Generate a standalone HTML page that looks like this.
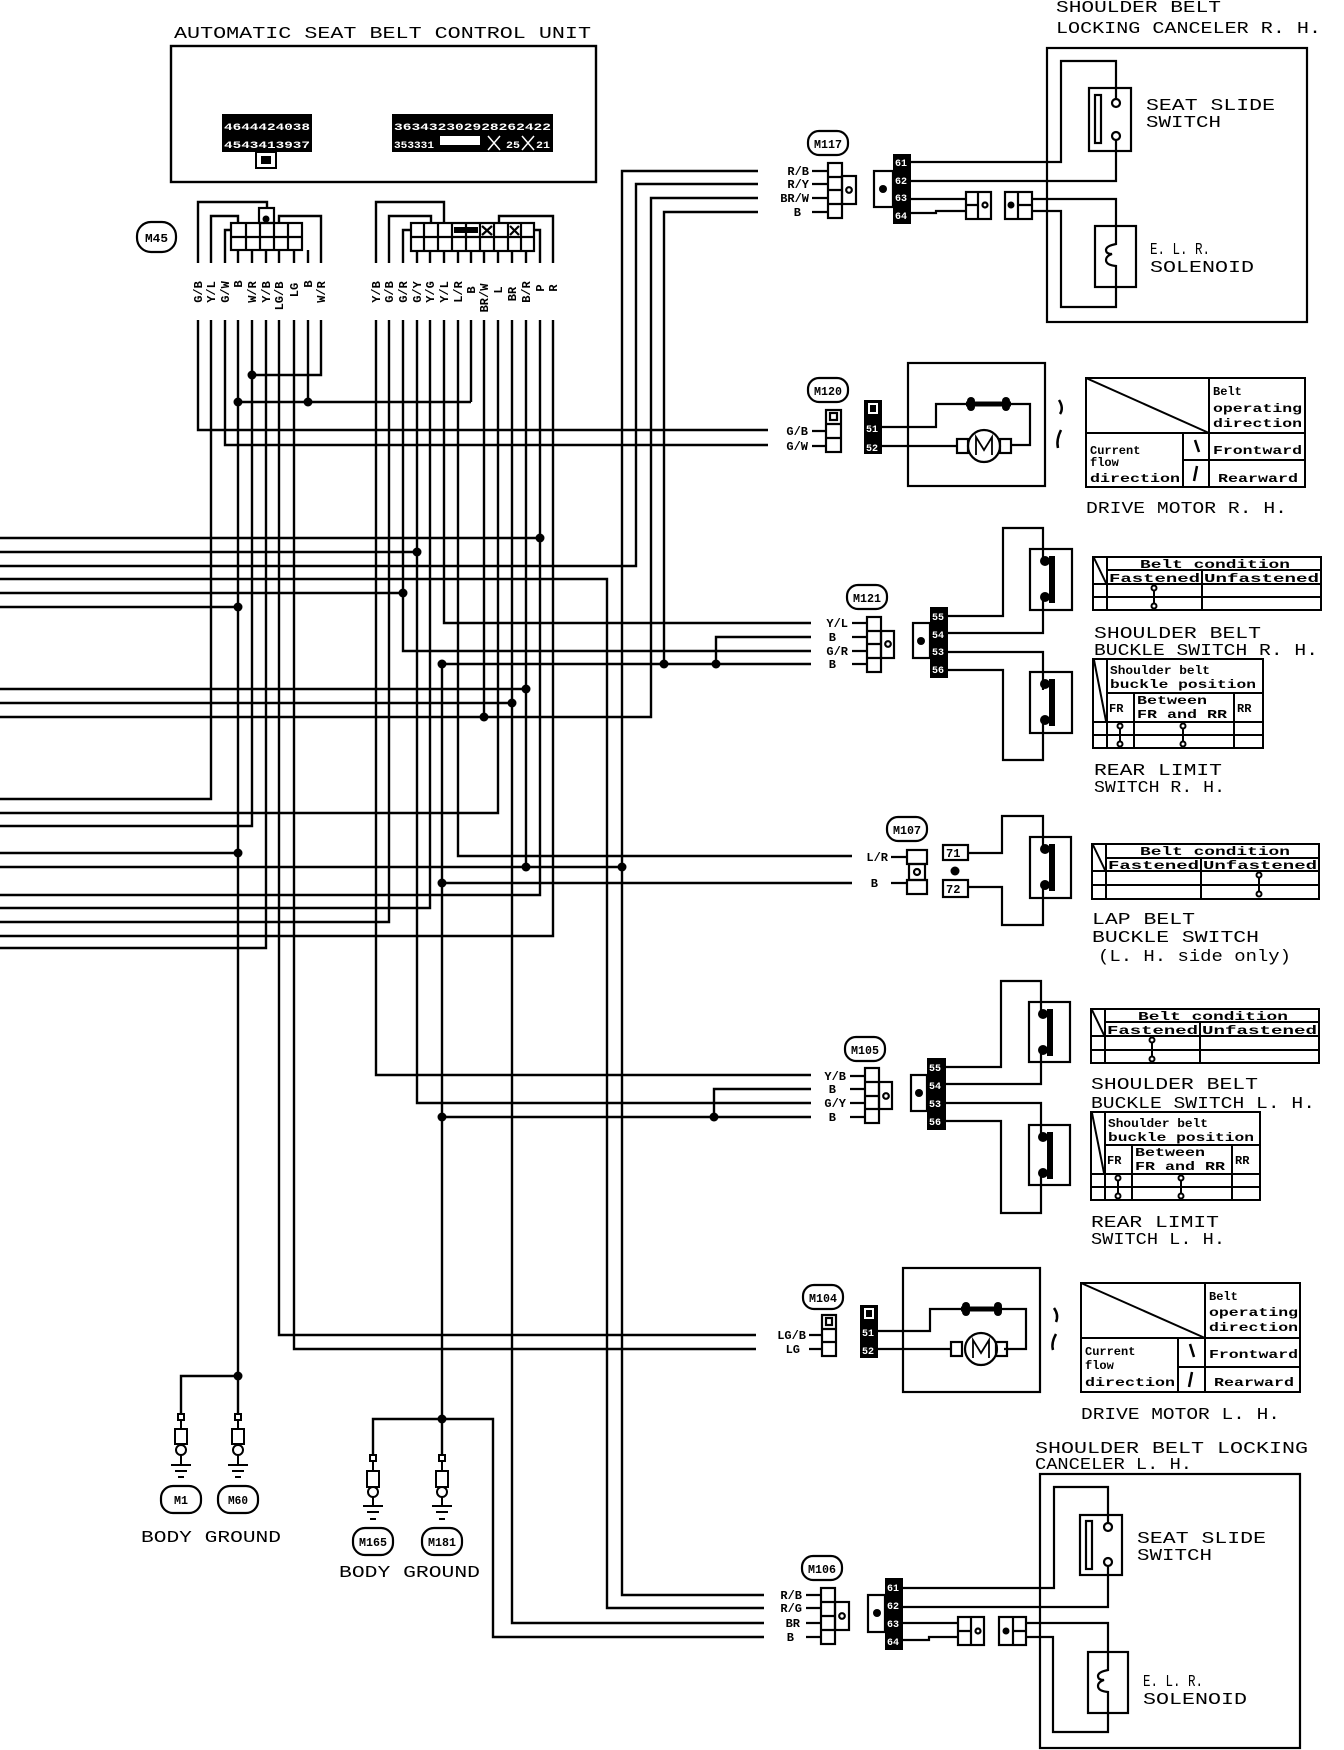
<!DOCTYPE html>
<html><head><meta charset="utf-8"><style>
html,body{margin:0;padding:0;background:#fff}
svg{display:block}
text{font-family:"Liberation Mono","DejaVu Sans Mono",monospace;fill:#000;stroke:none}
.t{font-size:17px}
.s{font-size:12px;font-weight:bold}
.m{font-size:12px;font-weight:bold}
.w{font-size:10px;font-weight:bold}
.w text{fill:#fff}
</style></head><body>
<svg width="1344" height="1750" viewBox="0 0 1344 1750" xmlns="http://www.w3.org/2000/svg">
<rect width="1344" height="1750" fill="#fff"/>
<!-- control unit -->
<text class="t" x="174" y="38" textLength="417" lengthAdjust="spacingAndGlyphs">AUTOMATIC SEAT BELT CONTROL UNIT</text>
<g fill="none" stroke="#000" stroke-width="2.4">
<rect x="171" y="46" width="425" height="136"/>
</g>
<rect x="222" y="114" width="90" height="38" fill="#000"/>
<rect x="256" y="152" width="20" height="16" fill="none" stroke="#000" stroke-width="2"/>
<rect x="261" y="156" width="10" height="8" fill="#000"/>
<g class="w">
<text x="224" y="130" textLength="86" lengthAdjust="spacingAndGlyphs">4644424038</text>
<text x="224" y="148" textLength="86" lengthAdjust="spacingAndGlyphs">4543413937</text>
</g>
<rect x="392" y="114" width="161" height="38" fill="#000"/>
<g class="w">
<text x="394" y="130" textLength="157" lengthAdjust="spacingAndGlyphs">363432302928262422</text>
<text x="394" y="148" textLength="40" lengthAdjust="spacingAndGlyphs">353331</text>
<text x="506" y="148" textLength="14" lengthAdjust="spacingAndGlyphs">25</text>
<text x="536" y="148" textLength="14" lengthAdjust="spacingAndGlyphs">21</text>
</g>
<rect x="440" y="136" width="40" height="9" fill="#fff"/>
<g stroke="#fff" stroke-width="1.5"><path d="M488 136 L500 150 M500 136 L488 150 M522 136 L534 150 M534 136 L522 150"/></g>

<!-- M45 oval -->
<rect x="137" y="222" width="39" height="30" rx="14" fill="none" stroke="#000" stroke-width="2.2"/>
<text class="m" x="145" y="242" textLength="23" lengthAdjust="spacingAndGlyphs">M45</text>

<g fill="none" stroke="#000" stroke-width="2.2">
<rect x="231" y="223" width="71" height="27"/>
<path d="M231 237 H302 M246 223 V250 M260 223 V250 M274 223 V250 M288 223 V250"/>
<rect x="259" y="208" width="15" height="15"/>
<rect x="411" y="223" width="123" height="28"/>
<path d="M411 237 H534 M424 223 V251 M438 223 V251 M452 223 V251 M466 223 V251 M480 223 V251 M494 223 V251 M508 223 V251 M521 223 V251"/>
<path d="M482 226 L492 235 M492 226 L482 235 M510 226 L519 235 M519 226 L510 235"/>
</g>
<rect x="454" y="227" width="24" height="6" fill="#000"/>
<circle cx="266" cy="219" r="3.5" fill="#000"/>

<!-- wires -->
<g fill="none" stroke="#000" stroke-width="2.4">
<path d="M198 263 V202 H267 V208"/>
<path d="M211 263 V216 H238 V223"/>
<path d="M225 263 V230 H231"/>
<path d="M238 250V263 M252 250V263 M266 250V263 M279 250V263 M294 250V263 M308 250V263"/>
<path d="M321 263 V216 H279 V223"/>
<path d="M376 263 V202 H444 V223"/>
<path d="M389 263 V216 H431 V223"/>
<path d="M403 263 V230 H411"/>
<path d="M417 251V263 M430 251V263 M444 251V263 M458 251V263 M471 251V263 M484 251V263 M498 251V263 M512 251V263 M526 251V263"/>
<path d="M540 263 V230 H534"/>
<path d="M553 263 V216 H499 V223"/>

<path d="M198 320 V430 H768"/>
<path d="M211 320 V799 H0"/>
<path d="M225 320 V445 H768"/>
<path d="M238 320 V1414"/>
<path d="M252 320 V826 H0"/>
<path d="M266 320 V948 H0"/>
<path d="M279 320 V1335 H756"/>
<path d="M294 320 V1349 H756"/>
<path d="M308 320 V402"/>
<path d="M321 320 V375 H252"/>
<path d="M238 402 H471"/>
<path d="M376 320 V1075 H811"/>
<path d="M389 320 V922 H0"/>
<path d="M403 320 V651 H811"/>
<path d="M417 320 V1103 H811"/>
<path d="M430 320 V908 H0"/>
<path d="M444 320 V623 H811"/>
<path d="M458 320 V856 H852"/>
<path d="M471 320 V402"/>
<path d="M484 320 V717"/>
<path d="M498 320 V813 H0"/>
<path d="M512 320 V1623 H764"/>
<path d="M526 320 V867"/>
<path d="M540 320 V895 H0"/>
<path d="M553 320 V936 H0"/>
<path d="M758 171 H622 V1595 H764"/>
<path d="M758 184 H636 V566 H0"/>
<path d="M758 198 H651 V717 H0"/>
<path d="M758 212 H664 V664"/>
<path d="M0 579 H607 V1608 H764"/>
<path d="M0 538 H540 M0 552 H417 M0 593 H403 M0 607 H238 M0 689 H526 M0 703 H512 M0 853 H238 M0 867 H622"/>
<path d="M442 1419 V664 H811 M716 664 V637 H811"/>
<path d="M442 883 H852 M442 1117 H811 M714 1117 V1089 H811"/>
<path d="M181 1414 V1376 H238"/>
<path d="M373 1455 V1419 H493 V1637 H764 M442 1419 V1455"/>
</g>
<g fill="#000">
<circle cx="252" cy="375" r="4.5"/><circle cx="238" cy="402" r="4.5"/><circle cx="308" cy="402" r="4.5"/>
<circle cx="540" cy="538" r="4.5"/><circle cx="417" cy="552" r="4.5"/><circle cx="403" cy="593" r="4.5"/>
<circle cx="238" cy="607" r="4.5"/><circle cx="442" cy="664" r="4.5"/><circle cx="664" cy="664" r="4.5"/>
<circle cx="716" cy="664" r="4.5"/><circle cx="526" cy="689" r="4.5"/><circle cx="512" cy="703" r="4.5"/>
<circle cx="484" cy="717" r="4.5"/><circle cx="238" cy="853" r="4.5"/><circle cx="526" cy="867" r="4.5"/>
<circle cx="622" cy="867" r="4.5"/><circle cx="442" cy="883" r="4.5"/><circle cx="442" cy="1117" r="4.5"/>
<circle cx="714" cy="1117" r="4.5"/><circle cx="238" cy="1376" r="4.5"/><circle cx="442" cy="1419" r="4.5"/>
</g>

<!-- vertical wire labels -->
<g class="s" text-anchor="middle">
<text transform="translate(202,292) rotate(-90)">G/B</text>
<text transform="translate(215,292) rotate(-90)">Y/L</text>
<text transform="translate(229,292) rotate(-90)">G/W</text>
<text transform="translate(242,284) rotate(-90)">B</text>
<text transform="translate(256,292) rotate(-90)">W/R</text>
<text transform="translate(270,292) rotate(-90)">Y/B</text>
<text transform="translate(283,296) rotate(-90)">LG/B</text>
<text transform="translate(298,290) rotate(-90)">LG</text>
<text transform="translate(312,284) rotate(-90)">B</text>
<text transform="translate(325,292) rotate(-90)">W/R</text>
<text transform="translate(380,292) rotate(-90)">Y/B</text>
<text transform="translate(393,292) rotate(-90)">G/B</text>
<text transform="translate(407,292) rotate(-90)">G/R</text>
<text transform="translate(421,292) rotate(-90)">G/Y</text>
<text transform="translate(434,292) rotate(-90)">Y/G</text>
<text transform="translate(448,292) rotate(-90)">Y/L</text>
<text transform="translate(462,292) rotate(-90)">L/R</text>
<text transform="translate(475,290) rotate(-90)">B</text>
<text transform="translate(488,298) rotate(-90)">BR/W</text>
<text transform="translate(502,290) rotate(-90)">L</text>
<text transform="translate(516,294) rotate(-90)">BR</text>
<text transform="translate(530,292) rotate(-90)">B/R</text>
<text transform="translate(544,288) rotate(-90)">P</text>
<text transform="translate(557,288) rotate(-90)">R</text>
</g>

<!-- ===== Shoulder belt locking canceler R.H. ===== -->
<text class="t" x="1056" y="12" textLength="165" lengthAdjust="spacingAndGlyphs">SHOULDER BELT</text>
<text class="t" x="1056" y="33" textLength="265" lengthAdjust="spacingAndGlyphs">LOCKING CANCELER R. H.</text>
<rect x="808" y="131" width="40" height="24" rx="11" fill="none" stroke="#000" stroke-width="2.2"/>
<text class="m" x="814" y="148" textLength="28" lengthAdjust="spacingAndGlyphs">M117</text>
<g class="s" text-anchor="end">
<text x="809" y="175">R/B</text><text x="809" y="188">R/Y</text><text x="809" y="202">BR/W</text><text x="801" y="216">B</text>
</g>
<g fill="none" stroke="#000" stroke-width="2.2">
<path d="M812 171 H828 M812 184 H828 M812 198 H828 M812 212 H828"/>
<rect x="828" y="163" width="14" height="55"/><path d="M828 177 H842 M828 190 H842 M828 204 H842"/>
<rect x="842" y="176" width="14" height="28"/>
<circle cx="849" cy="190" r="2.8"/>
<rect x="874" y="171" width="19" height="36"/>
<rect x="1047" y="48" width="260" height="274"/>
<rect x="1089" y="88" width="42" height="63"/>
<rect x="1095" y="95" width="6" height="48"/>
<circle cx="1116" cy="103" r="4"/><circle cx="1116" cy="136" r="4"/>
<path d="M911 162 H1061 V61 H1116 V99"/>
<path d="M911 181 H1116 V140"/>
<path d="M911 199 H966 M911 213 H936 V211 H966"/>
<rect x="966" y="192" width="25" height="27"/><path d="M978 192 V219 M966 205 H978"/>
<circle cx="985" cy="205" r="2.5"/>
<rect x="1005" y="192" width="27" height="27"/><path d="M1018 192 V219 M1018 205 H1032"/>
<path d="M1032 199 H1116 V226 M1032 211 H1061 V307 H1116 V287"/>
<rect x="1095" y="226" width="41" height="61"/>
<path d="M1116 226 V244 Q1106 246 1106 250 Q1106 254 1112 254 Q1106 256 1106 260 Q1106 265 1116 266 V287"/>
</g>
<circle cx="1011" cy="205" r="3.5" fill="#000"/>
<circle cx="883" cy="189" r="4" fill="#000"/>
<rect x="893" y="154" width="18" height="70" fill="#000"/>
<g class="w"><text x="895" y="166">61</text><text x="895" y="184">62</text><text x="895" y="201">63</text><text x="895" y="219">64</text></g>
<text class="t" x="1146" y="110" textLength="129" lengthAdjust="spacingAndGlyphs">SEAT SLIDE</text>
<text class="t" x="1146" y="127" textLength="75" lengthAdjust="spacingAndGlyphs">SWITCH</text>
<text class="t" x="1150" y="254" textLength="60" lengthAdjust="spacingAndGlyphs">E. L. R.</text>
<text class="t" x="1150" y="272" textLength="104" lengthAdjust="spacingAndGlyphs">SOLENOID</text>

<!-- ===== Drive motor R.H. ===== -->
<rect x="808" y="378" width="40" height="24" rx="11" fill="none" stroke="#000" stroke-width="2.2"/>
<text class="m" x="814" y="395" textLength="28" lengthAdjust="spacingAndGlyphs">M120</text>
<g class="s" text-anchor="end"><text x="808" y="435">G/B</text><text x="808" y="450">G/W</text></g>
<g fill="none" stroke="#000" stroke-width="2.2">
<path d="M812 431 H826 M812 446 H826"/>
<rect x="826" y="410" width="15" height="42"/><path d="M826 424 H841 M826 438 H841"/>
<rect x="830" y="413" width="7" height="7"/>
<rect x="908" y="363" width="137" height="123"/>
<path d="M882 427 H936 V404 H966 M1011 404 H1030 V445 H1011 M882 446 H957"/>
<circle cx="984" cy="446" r="16"/>
<rect x="957" y="439" width="11" height="14"/><rect x="1000" y="439" width="11" height="14"/>
<path d="M976 455 V437 L984 450 L992 437 V455" stroke-width="1.8"/>
<path d="M1059 400 Q1064 408 1060 414 M1061 430 Q1056 440 1058 448" stroke-width="2.5"/>
</g>
<path d="M966 404 H1011" stroke="#000" stroke-width="5"/>
<circle cx="971" cy="401" r="4"/><circle cx="971" cy="407" r="4"/><circle cx="1006" cy="401" r="4"/><circle cx="1006" cy="407" r="4"/>
<rect x="864" y="400" width="18" height="54" fill="#000"/>
<rect x="868" y="403" width="10" height="11" fill="#fff"/><rect x="870" y="405" width="6" height="7" fill="#000"/>
<g class="w"><text x="866" y="432">51</text><text x="866" y="451">52</text></g>

<g fill="none" stroke="#000" stroke-width="2">
<rect x="1086" y="378" width="219" height="109"/>
<path d="M1209 378 V487 M1086 433 H1305 M1183 433 V487 M1183 460 H1305 M1086 378 L1209 433"/>
<path d="M1195 440 L1199 452 M1197 466 L1194 481" stroke-width="2.5"/>
</g>
<g class="s" font-weight="normal">
<text x="1213" y="395">Belt</text><text x="1213" y="412" textLength="89" lengthAdjust="spacingAndGlyphs">operating</text><text x="1213" y="427" textLength="89" lengthAdjust="spacingAndGlyphs">direction</text>
<text x="1090" y="454">Current</text><text x="1090" y="466">flow</text><text x="1090" y="482" textLength="90" lengthAdjust="spacingAndGlyphs">direction</text>
<text x="1213" y="454" textLength="89" lengthAdjust="spacingAndGlyphs">Frontward</text><text x="1218" y="482" textLength="80" lengthAdjust="spacingAndGlyphs">Rearward</text>
</g>
<text class="t" x="1086" y="513" textLength="201" lengthAdjust="spacingAndGlyphs">DRIVE MOTOR R. H.</text>

<!-- ===== Shoulder belt buckle switch R.H. & Rear limit ===== -->
<rect x="847" y="585" width="40" height="24" rx="11" fill="none" stroke="#000" stroke-width="2.2"/>
<text class="m" x="853" y="602" textLength="28" lengthAdjust="spacingAndGlyphs">M121</text>
<g class="s" text-anchor="end"><text x="848" y="627">Y/L</text><text x="836" y="641">B</text><text x="848" y="655">G/R</text><text x="836" y="668">B</text></g>
<g fill="none" stroke="#000" stroke-width="2.2">
<path d="M852 623 H867 M852 637 H867 M852 651 H867 M852 664 H867"/>
<rect x="867" y="617" width="14" height="55"/><path d="M867 631 H881 M867 644 H881 M867 658 H881"/>
<rect x="881" y="631" width="13" height="27"/><circle cx="888" cy="644" r="2.8"/>
<rect x="913" y="623" width="17" height="35"/>
<path d="M948 616 H1003 V528 H1043 V560 M1043 598 V633 H948 M948 652 H1043 V690 M1043 722 V760 H1003 V670 H948"/>
<rect x="1030" y="549" width="42" height="61"/>
<rect x="1030" y="672" width="42" height="61"/>
</g>
<rect x="1049" y="556" width="6" height="47" fill="#000"/><circle cx="1045" cy="561" r="5"/><circle cx="1045" cy="597" r="5"/>
<rect x="1049" y="679" width="6" height="47" fill="#000"/><circle cx="1045" cy="684" r="5"/><circle cx="1045" cy="720" r="5"/>
<circle cx="921" cy="641" r="4" fill="#000"/>
<rect x="930" y="607" width="18" height="71" fill="#000"/>
<g class="w"><text x="932" y="620">55</text><text x="932" y="638">54</text><text x="932" y="655">53</text><text x="932" y="673">56</text></g>
<g fill="none" stroke="#000" stroke-width="2">
<rect x="1093" y="557" width="228" height="53"/>
<path d="M1107 557 V610 M1107 570 H1321 M1107 584 H1321 M1093 584 H1107 M1093 597 H1321 M1202 570 V610 M1094 558 L1106 583"/>
<circle cx="1154" cy="588" r="2.5"/><circle cx="1154" cy="606" r="2.5"/><path d="M1154 591 V603"/>
<rect x="1093" y="659" width="170" height="89"/>
<path d="M1107 659 V748 M1107 693 H1263 M1093 722 H1263 M1093 735 H1263 M1134 693 V748 M1234 693 V748 M1094 660 L1106 721"/>
<circle cx="1120" cy="726" r="2.5"/><circle cx="1120" cy="744" r="2.5"/><path d="M1120 729 V741"/>
<circle cx="1183" cy="726" r="2.5"/><circle cx="1183" cy="744" r="2.5"/><path d="M1183 729 V741"/>
</g>
<g class="s">
<text x="1140" y="568" textLength="150" lengthAdjust="spacingAndGlyphs">Belt condition</text>
<text x="1109" y="582" textLength="91" lengthAdjust="spacingAndGlyphs">Fastened</text>
<text x="1204" y="582" textLength="115" lengthAdjust="spacingAndGlyphs">Unfastened</text>
<text x="1110" y="674" textLength="100" lengthAdjust="spacingAndGlyphs">Shoulder belt</text>
<text x="1110" y="688" textLength="146" lengthAdjust="spacingAndGlyphs">buckle position</text>
<text x="1109" y="712">FR</text>
<text x="1137" y="704" textLength="70" lengthAdjust="spacingAndGlyphs">Between</text>
<text x="1137" y="718" textLength="90" lengthAdjust="spacingAndGlyphs">FR and RR</text>
<text x="1237" y="712">RR</text>
</g>
<text class="t" x="1094" y="638" textLength="167" lengthAdjust="spacingAndGlyphs">SHOULDER BELT</text>
<text class="t" x="1094" y="655" textLength="224" lengthAdjust="spacingAndGlyphs">BUCKLE SWITCH R. H.</text>
<text class="t" x="1094" y="775" textLength="128" lengthAdjust="spacingAndGlyphs">REAR LIMIT</text>
<text class="t" x="1094" y="792" textLength="131" lengthAdjust="spacingAndGlyphs">SWITCH R. H.</text>

<!-- ===== Lap belt buckle switch ===== -->
<rect x="887" y="817" width="40" height="24" rx="11" fill="none" stroke="#000" stroke-width="2.2"/>
<text class="m" x="893" y="834" textLength="28" lengthAdjust="spacingAndGlyphs">M107</text>
<g class="s" text-anchor="end"><text x="888" y="861">L/R</text><text x="878" y="887">B</text></g>
<g fill="none" stroke="#000" stroke-width="2.2">
<path d="M891 857 H907 M891 883 H907"/>
<rect x="907" y="850" width="20" height="14"/><rect x="907" y="880" width="20" height="14"/>
<rect x="909" y="864" width="16" height="16"/><circle cx="917" cy="872" r="3"/>
<rect x="943" y="845" width="25" height="15"/><rect x="943" y="880" width="25" height="17"/>
<path d="M968 853 H1002 V816 H1043 V849 M1043 885 V925 H1002 V887 H968"/>
<rect x="1030" y="837" width="41" height="61"/>
</g>
<circle cx="955" cy="871" r="4.5" fill="#000"/>
<rect x="1049" y="844" width="6" height="47" fill="#000"/><circle cx="1045" cy="849" r="5"/><circle cx="1045" cy="885" r="5"/>
<g class="s"><text x="946" y="857">71</text><text x="946" y="893">72</text></g>
<g fill="none" stroke="#000" stroke-width="2">
<rect x="1092" y="844" width="227" height="55"/>
<path d="M1106 844 V899 M1106 858 H1319 M1106 871 H1319 M1092 871 H1106 M1092 885 H1319 M1201 858 V899 M1093 845 L1105 870"/>
<circle cx="1259" cy="875" r="2.5"/><circle cx="1259" cy="894" r="2.5"/><path d="M1259 878 V891"/>
</g>
<g class="s">
<text x="1140" y="855" textLength="150" lengthAdjust="spacingAndGlyphs">Belt condition</text>
<text x="1108" y="869" textLength="91" lengthAdjust="spacingAndGlyphs">Fastened</text>
<text x="1203" y="869" textLength="114" lengthAdjust="spacingAndGlyphs">Unfastened</text>
</g>
<text class="t" x="1092" y="924" textLength="103" lengthAdjust="spacingAndGlyphs">LAP BELT</text>
<text class="t" x="1092" y="942" textLength="167" lengthAdjust="spacingAndGlyphs">BUCKLE SWITCH</text>
<text class="t" x="1098" y="961" textLength="193" lengthAdjust="spacingAndGlyphs">(L. H.  side only)</text>

<!-- ===== Shoulder belt buckle switch L.H. ===== -->
<rect x="845" y="1037" width="40" height="24" rx="11" fill="none" stroke="#000" stroke-width="2.2"/>
<text class="m" x="851" y="1054" textLength="28" lengthAdjust="spacingAndGlyphs">M105</text>
<g class="s" text-anchor="end"><text x="846" y="1080">Y/B</text><text x="836" y="1093">B</text><text x="846" y="1107">G/Y</text><text x="836" y="1121">B</text></g>
<g fill="none" stroke="#000" stroke-width="2.2">
<path d="M850 1076 H865 M850 1089 H865 M850 1103 H865 M850 1117 H865"/>
<rect x="865" y="1068" width="14" height="55"/><path d="M865 1082 H879 M865 1096 H879 M865 1109 H879"/>
<rect x="879" y="1082" width="13" height="27"/><circle cx="886" cy="1096" r="2.8"/>
<rect x="911" y="1075" width="16" height="36"/>
<path d="M946 1067 H1001 V981 H1041 V1012 M1041 1052 V1084 H946 M946 1103 H1041 V1135 M1041 1175 V1213 H1001 V1121 H946"/>
<rect x="1029" y="1002" width="41" height="60"/>
<rect x="1029" y="1125" width="41" height="60"/>
</g>
<rect x="1047" y="1009" width="6" height="47" fill="#000"/><circle cx="1043" cy="1014" r="5"/><circle cx="1043" cy="1050" r="5"/>
<rect x="1047" y="1132" width="6" height="47" fill="#000"/><circle cx="1043" cy="1137" r="5"/><circle cx="1043" cy="1173" r="5"/>
<circle cx="919" cy="1093" r="4" fill="#000"/>
<rect x="927" y="1058" width="19" height="72" fill="#000"/>
<g class="w"><text x="929" y="1071">55</text><text x="929" y="1089">54</text><text x="929" y="1107">53</text><text x="929" y="1125">56</text></g>
<g fill="none" stroke="#000" stroke-width="2">
<rect x="1091" y="1009" width="228" height="54"/>
<path d="M1105 1009 V1063 M1105 1022 H1319 M1105 1036 H1319 M1091 1036 H1105 M1091 1050 H1319 M1200 1022 V1063 M1092 1010 L1104 1035"/>
<circle cx="1152" cy="1040" r="2.5"/><circle cx="1152" cy="1059" r="2.5"/><path d="M1152 1043 V1056"/>
<rect x="1091" y="1112" width="169" height="88"/>
<path d="M1105 1112 V1200 M1105 1145 H1260 M1091 1174 H1260 M1091 1187 H1260 M1132 1145 V1200 M1232 1145 V1200 M1092 1113 L1104 1173"/>
<circle cx="1118" cy="1178" r="2.5"/><circle cx="1118" cy="1196" r="2.5"/><path d="M1118 1181 V1193"/>
<circle cx="1181" cy="1178" r="2.5"/><circle cx="1181" cy="1196" r="2.5"/><path d="M1181 1181 V1193"/>
</g>
<g class="s">
<text x="1138" y="1020" textLength="150" lengthAdjust="spacingAndGlyphs">Belt condition</text>
<text x="1107" y="1034" textLength="91" lengthAdjust="spacingAndGlyphs">Fastened</text>
<text x="1202" y="1034" textLength="115" lengthAdjust="spacingAndGlyphs">Unfastened</text>
<text x="1108" y="1127" textLength="100" lengthAdjust="spacingAndGlyphs">Shoulder belt</text>
<text x="1108" y="1141" textLength="146" lengthAdjust="spacingAndGlyphs">buckle position</text>
<text x="1107" y="1164">FR</text>
<text x="1135" y="1156" textLength="70" lengthAdjust="spacingAndGlyphs">Between</text>
<text x="1135" y="1170" textLength="90" lengthAdjust="spacingAndGlyphs">FR and RR</text>
<text x="1235" y="1164">RR</text>
</g>
<text class="t" x="1091" y="1089" textLength="167" lengthAdjust="spacingAndGlyphs">SHOULDER BELT</text>
<text class="t" x="1091" y="1108" textLength="224" lengthAdjust="spacingAndGlyphs">BUCKLE SWITCH L. H.</text>
<text class="t" x="1091" y="1227" textLength="128" lengthAdjust="spacingAndGlyphs">REAR LIMIT</text>
<text class="t" x="1091" y="1244" textLength="134" lengthAdjust="spacingAndGlyphs">SWITCH L. H.</text>

<!-- ===== Drive motor L.H. ===== -->
<rect x="803" y="1285" width="40" height="24" rx="11" fill="none" stroke="#000" stroke-width="2.2"/>
<text class="m" x="809" y="1302" textLength="28" lengthAdjust="spacingAndGlyphs">M104</text>
<g class="s" text-anchor="end"><text x="806" y="1339">LG/B</text><text x="800" y="1353">LG</text></g>
<g fill="none" stroke="#000" stroke-width="2.2">
<path d="M809 1335 H822 M809 1349 H822"/>
<rect x="822" y="1315" width="14" height="41"/><path d="M822 1329 H836 M822 1342 H836"/>
<rect x="826" y="1318" width="6" height="7"/>
<rect x="903" y="1268" width="137" height="124"/>
<path d="M878 1331 H930 V1309 H961 M1002 1309 H1026 V1349 H1004 M878 1349 H951"/>
<circle cx="981" cy="1349" r="16"/>
<rect x="951" y="1342" width="11" height="14"/><rect x="996" y="1342" width="11" height="14"/>
<path d="M973 1358 V1340 L981 1353 L989 1340 V1358" stroke-width="1.8"/>
<path d="M1054 1308 Q1059 1315 1056 1322 M1056 1334 Q1051 1343 1053 1350" stroke-width="2.5"/>
</g>
<path d="M961 1309 H1002" stroke="#000" stroke-width="5"/>
<circle cx="966" cy="1306" r="4"/><circle cx="966" cy="1312" r="4"/><circle cx="998" cy="1306" r="4"/><circle cx="998" cy="1312" r="4"/>
<rect x="860" y="1305" width="18" height="53" fill="#000"/>
<rect x="864" y="1308" width="10" height="11" fill="#fff"/><rect x="866" y="1310" width="6" height="7" fill="#000"/>
<g class="w"><text x="862" y="1336">51</text><text x="862" y="1354">52</text></g>
<g fill="none" stroke="#000" stroke-width="2">
<rect x="1081" y="1283" width="219" height="109"/>
<path d="M1205 1283 V1392 M1081 1338 H1300 M1178 1338 V1392 M1178 1367 H1300 M1081 1283 L1205 1338"/>
<path d="M1190 1344 L1194 1357 M1192 1372 L1189 1387" stroke-width="2.5"/>
</g>
<g class="s" font-weight="normal">
<text x="1209" y="1300">Belt</text><text x="1209" y="1316" textLength="89" lengthAdjust="spacingAndGlyphs">operating</text><text x="1209" y="1331" textLength="89" lengthAdjust="spacingAndGlyphs">direction</text>
<text x="1085" y="1355">Current</text><text x="1085" y="1369">flow</text><text x="1085" y="1386" textLength="90" lengthAdjust="spacingAndGlyphs">direction</text>
<text x="1209" y="1358" textLength="89" lengthAdjust="spacingAndGlyphs">Frontward</text><text x="1214" y="1386" textLength="80" lengthAdjust="spacingAndGlyphs">Rearward</text>
</g>
<text class="t" x="1081" y="1419" textLength="199" lengthAdjust="spacingAndGlyphs">DRIVE MOTOR L. H.</text>

<!-- ===== Shoulder belt locking canceler L.H. ===== -->
<text class="t" x="1035" y="1453" textLength="273" lengthAdjust="spacingAndGlyphs">SHOULDER BELT LOCKING</text>
<text class="t" x="1035" y="1469" textLength="157" lengthAdjust="spacingAndGlyphs">CANCELER L. H.</text>
<rect x="802" y="1556" width="40" height="24" rx="11" fill="none" stroke="#000" stroke-width="2.2"/>
<text class="m" x="808" y="1573" textLength="28" lengthAdjust="spacingAndGlyphs">M106</text>
<g class="s" text-anchor="end"><text x="802" y="1599">R/B</text><text x="802" y="1612">R/G</text><text x="800" y="1627">BR</text><text x="794" y="1641">B</text></g>
<g fill="none" stroke="#000" stroke-width="2.2">
<path d="M806 1595 H821 M806 1608 H821 M806 1623 H821 M806 1637 H821"/>
<rect x="821" y="1588" width="14" height="56"/><path d="M821 1602 H835 M821 1616 H835 M821 1630 H835"/>
<rect x="835" y="1602" width="14" height="28"/><circle cx="842" cy="1616" r="2.8"/>
<rect x="868" y="1595" width="17" height="37"/>
<rect x="1040" y="1474" width="260" height="274"/>
<rect x="1080" y="1515" width="42" height="60"/>
<rect x="1086" y="1521" width="6" height="48"/>
<circle cx="1108" cy="1527" r="4"/><circle cx="1108" cy="1562" r="4"/>
<path d="M903 1588 H1054 V1487 H1108 V1523"/>
<path d="M903 1607 H1108 V1566"/>
<path d="M903 1623 H958 M903 1640 H929 V1637 H958"/>
<rect x="958" y="1617" width="26" height="28"/><path d="M971 1617 V1645 M958 1631 H971"/>
<circle cx="978" cy="1631" r="2.5"/>
<rect x="999" y="1617" width="27" height="28"/><path d="M1013 1617 V1645 M1013 1631 H1026"/>
<path d="M1026 1623 H1108 V1652 M1026 1637 H1053 V1732 H1108 V1713"/>
<rect x="1088" y="1652" width="40" height="61"/>
<path d="M1108 1652 V1670 Q1098 1672 1098 1676 Q1098 1680 1104 1680 Q1098 1682 1098 1686 Q1098 1691 1108 1692 V1713"/>
</g>
<circle cx="1006" cy="1631" r="3.5" fill="#000"/>
<circle cx="877" cy="1613" r="4" fill="#000"/>
<rect x="885" y="1578" width="18" height="72" fill="#000"/>
<g class="w"><text x="887" y="1591">61</text><text x="887" y="1609">62</text><text x="887" y="1627">63</text><text x="887" y="1645">64</text></g>
<text class="t" x="1137" y="1543" textLength="129" lengthAdjust="spacingAndGlyphs">SEAT SLIDE</text>
<text class="t" x="1137" y="1560" textLength="75" lengthAdjust="spacingAndGlyphs">SWITCH</text>
<text class="t" x="1143" y="1686" textLength="60" lengthAdjust="spacingAndGlyphs">E. L. R.</text>
<text class="t" x="1143" y="1704" textLength="104" lengthAdjust="spacingAndGlyphs">SOLENOID</text>

<!-- ===== Grounds ===== -->
<g fill="none" stroke="#000" stroke-width="2">
<path d="M238 1414 V1376"/>
<rect x="178" y="1414" width="6" height="6"/><path d="M181 1420 V1429"/><rect x="175" y="1429" width="12" height="15"/><circle cx="181" cy="1450" r="5"/><path d="M181 1455 V1465 M171 1465 H191 M175 1471 H187 M178 1477 H184"/>
<rect x="235" y="1414" width="6" height="6"/><path d="M238 1420 V1429"/><rect x="232" y="1429" width="12" height="15"/><circle cx="238" cy="1450" r="5"/><path d="M238 1455 V1465 M228 1465 H248 M232 1471 H244 M235 1477 H241"/>
<rect x="161" y="1486" width="40" height="27" rx="12" stroke-width="2.2"/>
<rect x="218" y="1486" width="40" height="27" rx="12" stroke-width="2.2"/>
<rect x="370" y="1455" width="6" height="6"/><path d="M373 1461 V1471"/><rect x="367" y="1471" width="12" height="16"/><circle cx="373" cy="1492" r="5"/><path d="M373 1497 V1506 M363 1506 H383 M367 1512 H379 M370 1519 H376"/>
<rect x="439" y="1455" width="6" height="6"/><path d="M442 1461 V1471"/><rect x="436" y="1471" width="12" height="16"/><circle cx="442" cy="1492" r="5"/><path d="M442 1497 V1506 M432 1506 H452 M436 1512 H448 M439 1519 H445"/>
<rect x="353" y="1528" width="40" height="27" rx="12" stroke-width="2.2"/>
<rect x="422" y="1528" width="40" height="27" rx="12" stroke-width="2.2"/>
</g>
<g class="m">
<text x="174" y="1504" textLength="14" lengthAdjust="spacingAndGlyphs">M1</text>
<text x="228" y="1504" textLength="20" lengthAdjust="spacingAndGlyphs">M60</text>
<text x="359" y="1546" textLength="28" lengthAdjust="spacingAndGlyphs">M165</text>
<text x="428" y="1546" textLength="28" lengthAdjust="spacingAndGlyphs">M181</text>
</g>
<text class="t" x="141" y="1542" textLength="140" lengthAdjust="spacingAndGlyphs">BODY GROUND</text>
<text class="t" x="339" y="1577" textLength="141" lengthAdjust="spacingAndGlyphs">BODY GROUND</text>
</svg>
</body></html>
